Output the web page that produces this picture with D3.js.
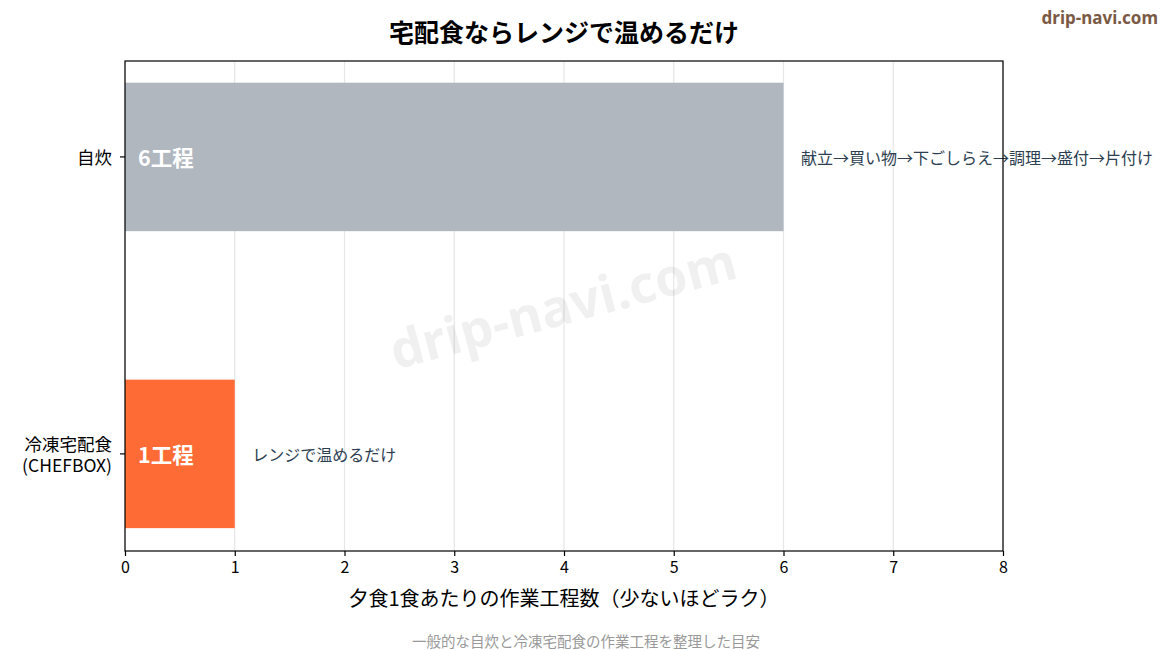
<!DOCTYPE html>
<html>
<head>
<meta charset="utf-8">
<script src="https://cdn.jsdelivr.net/npm/d3@7"></script>
<style>
  body { margin: 0; background: #fff; }
  svg text { font-family: "Noto Sans CJK JP", "Noto Sans", sans-serif; }
</style>
</head>
<body>
<div id="chart"></div>
<script>
// データ
var categories = ["冷凍宅配食\n(CHEFBOX)", "自炊"];
var steps = [1, 6];
var valueLabels = ["1工程", "6工程"];
var notes = ["レンジで温めるだけ", "献立→買い物→下ごしらえ→調理→盛付→片付け"];
var barColors = ["#ff6b35", "#b0b7bf"];
var xTicks = [0, 1, 2, 3, 4, 5, 6, 7, 8];

var width = 1170, height = 650;
var margin = { top: 61, right: 167, bottom: 99, left: 125 };

var svg = d3.select("#chart").append("svg")
    .attr("width", width)
    .attr("height", height);

var x = d3.scaleLinear()
    .domain([0, 8])
    .range([margin.left, width - margin.right]);

// y は位置 0,1 を線形で配置（棒の高さ 0.5）
var y = d3.scaleLinear()
    .domain([-0.327, 1.323])
    .range([height - margin.bottom, margin.top]);

// グリッド
svg.append("g")
    .selectAll("line")
    .data(xTicks)
    .enter()
    .append("line")
    .attr("x1", function(d) { return x(d); })
    .attr("x2", function(d) { return x(d); })
    .attr("y1", margin.top)
    .attr("y2", height - margin.bottom)
    .attr("stroke", "#e6e6e6")
    .attr("stroke-width", 1.2);

// ウォーターマーク
svg.append("text")
    .attr("transform", "translate(564,310) rotate(-15)")
    .attr("text-anchor", "middle")
    .attr("dominant-baseline", "middle")
    .style("font-family", "'Noto Sans', sans-serif")
    .style("font-size", "52px")
    .style("font-weight", "bold")
    .style("fill", "#000")
    .style("fill-opacity", 0.06)
    .text("drip-navi.com");

// 棒
svg.selectAll("rect.bar")
    .data(steps)
    .enter()
    .append("rect")
    .attr("class", "bar")
    .attr("x", x(0))
    .attr("y", function(d, i) { return y(i + 0.25); })
    .attr("width", function(d) { return x(d) - x(0); })
    .attr("height", function(d, i) { return y(i - 0.25) - y(i + 0.25); })
    .attr("fill", function(d, i) { return barColors[i]; });

// 棒内ラベル
svg.selectAll("text.vlabel")
    .data(valueLabels)
    .enter()
    .append("text")
    .attr("class", "vlabel")
    .attr("x", x(0) + 13)
    .attr("y", function(d, i) { return y(i); })
    .attr("dominant-baseline", "central")
    .style("font-size", "21.5px")
    .style("font-weight", "bold")
    .style("fill", "#fff")
    .text(function(d) { return d; });

// 注記
svg.selectAll("text.note")
    .data(notes)
    .enter()
    .append("text")
    .attr("class", "note")
    .attr("x", function(d, i) { return x(steps[i] + 0.16); })
    .attr("y", function(d, i) { return y(i); })
    .attr("dominant-baseline", "central")
    .style("font-size", "16px")
    .style("fill", "#2c3e50")
    .text(function(d) { return d; });

// 枠
svg.append("rect")
    .attr("x", margin.left)
    .attr("y", margin.top)
    .attr("width", x(8) - x(0))
    .attr("height", height - margin.bottom - margin.top)
    .attr("fill", "none")
    .attr("stroke", "#000")
    .attr("stroke-width", 1.2);

// x軸
var xAxis = svg.append("g")
    .attr("transform", "translate(0," + (height - margin.bottom) + ")")
    .call(d3.axisBottom(x).tickValues(xTicks).tickSize(5).tickPadding(6).tickFormat(d3.format("d")));
xAxis.select(".domain").remove();
xAxis.selectAll("line").attr("stroke", "#000").attr("stroke-width", 1.2);
xAxis.selectAll("text")
    .style("font-family", "'Noto Sans CJK JP', sans-serif")
    .style("font-size", "16px")
    .style("fill", "#000");

// y軸ラベル（行ごとに別の text）
var yAxis = svg.append("g");
categories.forEach(function(c, i) {
    yAxis.append("line")
        .attr("x1", margin.left - 5)
        .attr("x2", margin.left)
        .attr("y1", y(i))
        .attr("y2", y(i))
        .attr("stroke", "#000")
        .attr("stroke-width", 1.2);
    var lines = c.split("\n");
    lines.forEach(function(l, j) {
        yAxis.append("text")
            .attr("text-anchor", "end")
            .attr("x", margin.left - 13)
            .attr("y", y(i) + (j - (lines.length - 1) / 2) * 21)
            .attr("dominant-baseline", "central")
            .style("font-size", "17.5px")
            .style("fill", "#000")
            .text(l);
    });
});

// x軸タイトル
svg.append("text")
    .attr("x", (x(0) + x(8)) / 2)
    .attr("y", 597)
    .attr("text-anchor", "middle")
    .attr("dominant-baseline", "central")
    .style("font-size", "20px")
    .style("fill", "#000")
    .text("夕食1食あたりの作業工程数（少ないほどラク）");

// タイトル
svg.append("text")
    .attr("x", (x(0) + x(8)) / 2)
    .attr("y", 31)
    .attr("text-anchor", "middle")
    .attr("dominant-baseline", "central")
    .style("font-size", "25px")
    .style("font-weight", "bold")
    .style("fill", "#000")
    .text("宅配食ならレンジで温めるだけ");

// サイト名
svg.append("text")
    .attr("x", 1158)
    .attr("y", 17)
    .attr("text-anchor", "end")
    .attr("dominant-baseline", "central")
    .style("font-family", "'Noto Sans', sans-serif")
    .style("font-size", "17px")
    .style("font-weight", "bold")
    .style("fill", "#7b5a45")
    .text("drip-navi.com");

// 注釈
svg.append("text")
    .attr("x", width / 2 + 1)
    .attr("y", 640)
    .attr("text-anchor", "middle")
    .attr("dominant-baseline", "central")
    .style("font-size", "14.5px")
    .style("fill", "#999")
    .text("一般的な自炊と冷凍宅配食の作業工程を整理した目安");
</script>
</body>
</html>
